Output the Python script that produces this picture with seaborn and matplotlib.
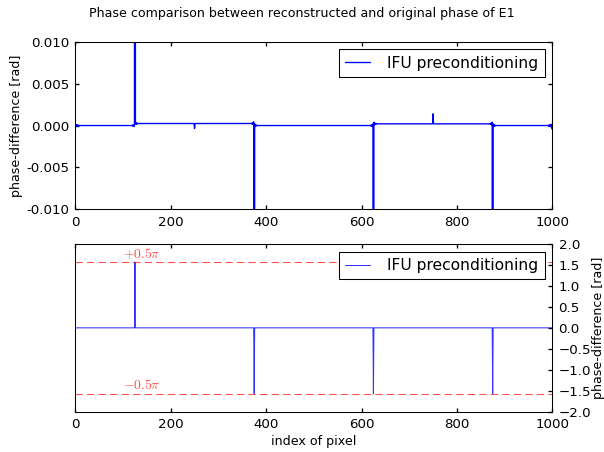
import numpy as np
import pandas as pd
import matplotlib
matplotlib.use("Agg")
import matplotlib.pyplot as plt
import seaborn as sns

# ---------------- data ----------------
n_pixels = 1000
segment_edges = [0, 125, 375, 625, 875, 1000]
segment_levels = [0.0, 0.00024, 0.0, 0.0002, 0.0]          # top-plot baseline [rad]
jump_idx = [125, 375, 625, 875]
jump_vals = [1.5708, -1.5708, -1.5708, -1.5708]             # phase jumps (+-0.5 pi)
bump_idx = [250, 750]
bump_vals = [-0.00036, 0.0014]
ring_after = [0.0002, -0.00012, 0.0001, -0.00006, 0.00004, -0.00003]
ring_before = [-0.00003, 0.00004, -0.00006, 0.0001, -0.00012, 0.0002]
edge_left = [-0.0004, 0.00015, -0.0001, 0.00008, -0.00006, 0.00005, -0.00004, 0.00003]
edge_right = [0.00003, -0.00005, 0.00006, -0.00008, 0.0001, -0.00012, 0.00015, -0.0004]
hline_levels = [1.5708, -1.5708]
hline_labels = [r"$+0.5\pi$", r"$-0.5\pi$"]
label_x = 100
label_offset = 0.1

pixel = np.arange(n_pixels)

# top series: small residuals plus jumps
top = np.zeros(n_pixels)
for a, b, lv in zip(segment_edges[:-1], segment_edges[1:], segment_levels):
    top[a:b] = lv
for j in jump_idx:
    for k, v in enumerate(ring_after):
        top[j + 1 + k] += v
    for k, v in enumerate(ring_before):
        top[j - len(ring_before) + k] += v
for k, v in enumerate(edge_left):
    top[k] += v
for k, v in enumerate(edge_right):
    top[n_pixels - len(edge_right) + k] += v
for i, v in zip(bump_idx, bump_vals):
    top[i] = v
for j, v in zip(jump_idx, jump_vals):
    top[j] = v

bottom = np.zeros(n_pixels)
for j, v in zip(jump_idx, jump_vals):
    bottom[j] = v

df_top = pd.DataFrame({"pixel": pixel, "diff": top})
df_bot = pd.DataFrame({"pixel": pixel, "diff": bottom})

# ---------------- style ----------------
sns.set_theme(style="ticks")
plt.rcParams.update({
    "font.family": ["DejaVu Sans"],
    "font.size": 12,
    "axes.labelsize": 12,
    "xtick.labelsize": 12.8,
    "ytick.labelsize": 12.8,
    "xtick.direction": "in",
    "ytick.direction": "in",
    "xtick.major.size": 4,
    "ytick.major.size": 4,
    "xtick.major.pad": 6,
    "ytick.major.pad": 6,
    "axes.edgecolor": "black",
    "axes.linewidth": 1.0,
    "axes.labelcolor": "black",
    "text.color": "black",
    "xtick.color": "black",
    "ytick.color": "black",
    "mathtext.fontset": "cm",
})

dpi = 75.5
fig = plt.figure(figsize=(604 / dpi, 452 / dpi), dpi=dpi)
ax1 = fig.add_axes([0.1247, 0.5369, 0.7897, 0.3708])
ax2 = fig.add_axes([0.1247, 0.0892, 0.7897, 0.3710])

fig.suptitle("Phase comparison between reconstructed and original phase of E1",
             fontsize=12, y=0.985)

leg_kw = dict(loc="upper right", fontsize=14.8, fancybox=False, frameon=True,
              edgecolor="black", framealpha=1, handlelength=1.6,
              handletextpad=1.1, borderpad=0.4, borderaxespad=0.5)

# top plot
sns.lineplot(data=df_top, x="pixel", y="diff", ax=ax1, color="blue", lw=1.3,
             label="IFU preconditioning")
ax1.set_xlim(0, 1000)
ax1.set_ylim(-0.010, 0.010)
ax1.set_yticks([-0.010, -0.005, 0.0, 0.005, 0.010])
ax1.set_xticks([0, 200, 400, 600, 800, 1000])
ax1.yaxis.set_major_formatter(matplotlib.ticker.FormatStrFormatter("%.3f"))
ax1.set_xlabel("")
ax1.set_ylabel("phase-difference [rad]", labelpad=3)
ax1.tick_params(top=True, right=True, direction="in")
leg = ax1.legend(**leg_kw)
leg.get_frame().set_linewidth(1.0)

# bottom plot
sns.lineplot(data=df_bot, x="pixel", y="diff", ax=ax2, color="blue", lw=1.0,
             alpha=0.8, label="IFU preconditioning")
for lv, lab in zip(hline_levels, hline_labels):
    ax2.axhline(lv, color="red", ls=(0, (7, 4)), lw=1.0, alpha=0.7)
    ax2.text(label_x, lv + label_offset, lab, color="red", alpha=0.7, fontsize=13)
ax2.set_xlim(0, 1000)
ax2.set_ylim(-2.0, 2.0)
ax2.set_xticks([0, 200, 400, 600, 800, 1000])
ax2.set_yticks(np.arange(-2.0, 2.01, 0.5))
ax2.yaxis.tick_right()
ax2.yaxis.set_label_position("right")
ax2.set_ylabel("phase-difference [rad]", labelpad=1)
ax2.set_xlabel("index of pixel")
ax2.tick_params(top=True, left=False, right=True, direction="in")
leg2 = ax2.legend(**leg_kw)
leg2.get_frame().set_linewidth(1.0)

fig.savefig("out.png", dpi=dpi)
